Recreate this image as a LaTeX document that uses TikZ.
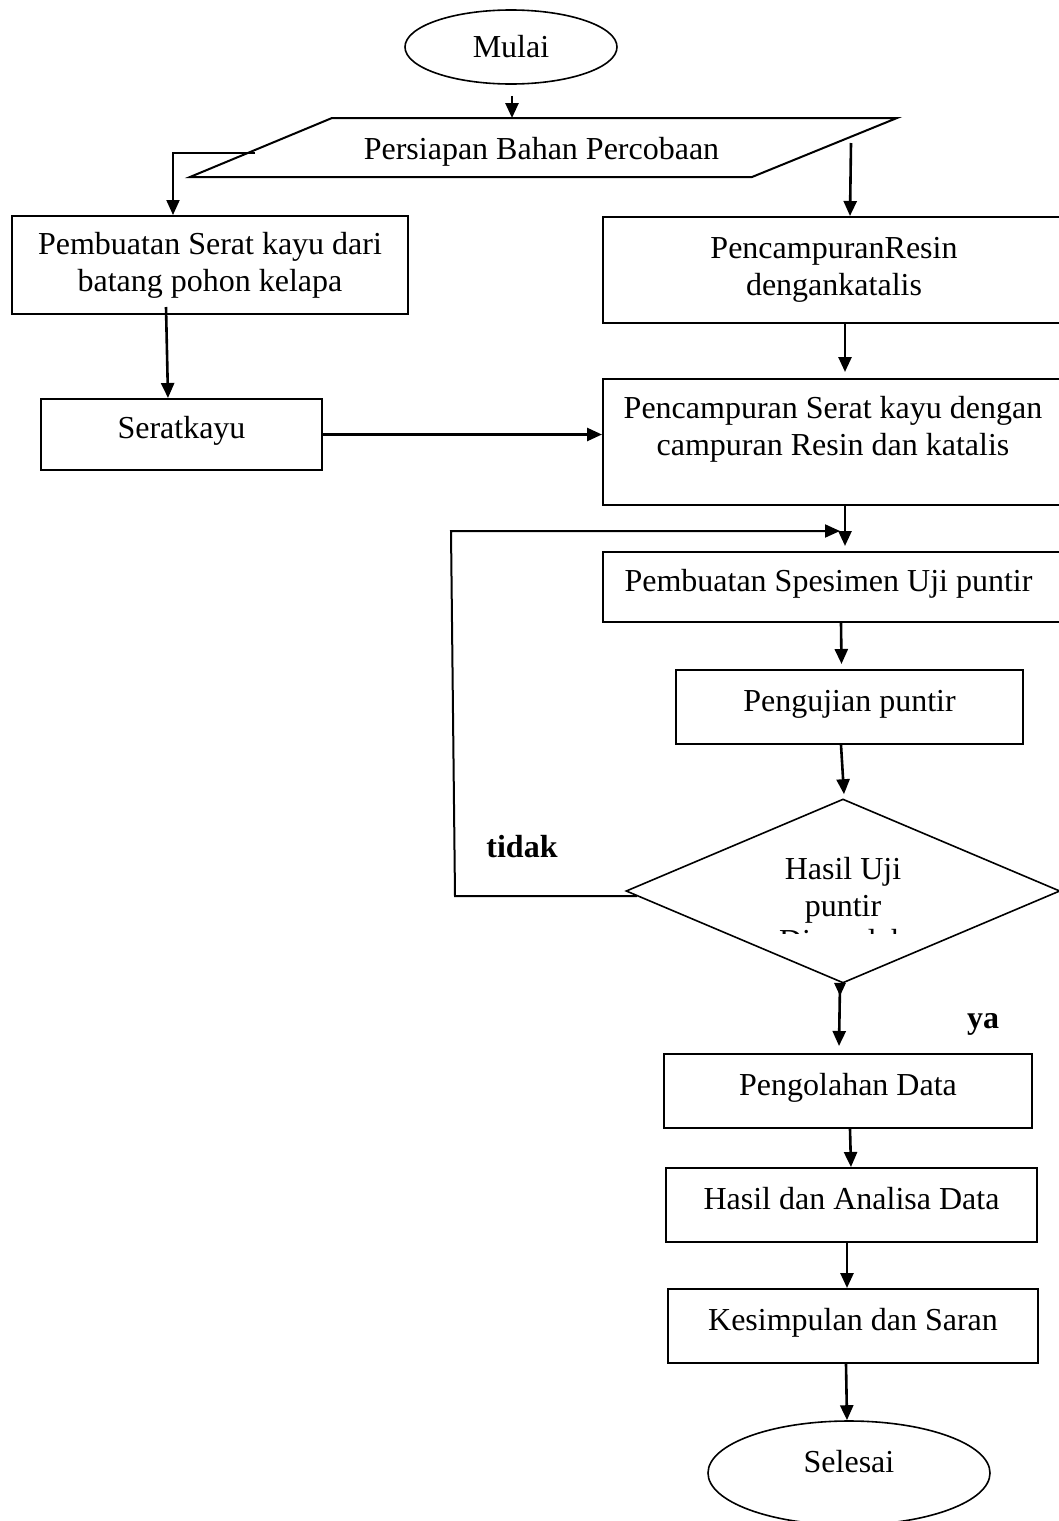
\documentclass[tikz,border=0pt]{standalone}
\usepackage{fontspec}
\setmainfont{Liberation Serif}
\usetikzlibrary{shapes.geometric,arrows.meta,calc}
\begin{document}
\begin{tikzpicture}[x=0.5pt,y=-0.5pt,
  font=\fontsize{16}{18.5}\selectfont,
  box/.style={draw,line width=1pt,inner sep=0pt,align=center},
  oval/.style={draw,ellipse,line width=0.8pt,inner sep=0pt},
  arr/.style={line width=1.3pt,-{Triangle[length=7.5pt,width=6.5pt]}},
  thinarr/.style={line width=1pt,-{Triangle[length=7.5pt,width=6.5pt]}},
  txt/.style={inner sep=0pt,align=center},
  onel/.style={text height=9pt,text depth=5pt},
  lbl/.style={inner sep=0pt,font=\fontsize{16}{18.5}\selectfont\bfseries}
]
\useasboundingbox (0,0) rectangle (1059,1521);

% start
\node[oval,minimum width=106pt,minimum height=37pt] (mulai) at (511,47) {Mulai};

% parallelogram
\coordinate (p1) at (332,118);
\coordinate (p2) at (897,118);
\coordinate (p3) at (752,177);
\coordinate (p4) at (190,177);
\draw[line width=1pt] (p1)--(p2)--(p3)--(p4)--cycle;
\node[txt] (par) at (541.5,151.5) {Persiapan Bahan Percobaan};
\coordinate (partop) at (512,118);
\coordinate (parL) at (255,153);
\coordinate (parR) at (851,143);

% boxes
\node[box,minimum width=198pt,minimum height=49pt] (b1) at (210,265) {Pembuatan Serat kayu dari\\batang pohon kelapa};
\node[box,minimum width=231pt,minimum height=53pt] (b2) at (834,270) {PencampuranResin\\dengankatalis};
\node[box,minimum width=231pt,minimum height=63pt] (b3) at (834,442) {};
\node[txt] (b3t) at (833,429) {Pencampuran Serat kayu dengan\\campuran Resin dan katalis};
\node[box,onel,minimum width=140.5pt,minimum height=35.5pt] (serat) at (181.5,434.5) {Seratkayu};
\node[box,minimum width=231pt,minimum height=35pt] (b4) at (834,587) {};
\node[txt,onel] (b4t) at (828.5,587) {Pembuatan Spesimen Uji puntir};
\node[box,onel,minimum width=173.5pt,minimum height=37pt] (b5) at (849.5,707) {Pengujian puntir};

% decision
\node[draw,diamond,line width=0.8pt,minimum width=217pt,minimum height=92pt,inner sep=0pt] (dia) at (843,891) {};
\node[txt] (diat) at (843,890) {Hasil Uji\\puntir};
\begin{scope}
  \clip (700,920) rectangle (1000,933);
  \node[inner sep=0pt,anchor=base] (diac) at (843,951) {Diperoleh};
\end{scope}

\node[box,onel,minimum width=184pt,minimum height=37pt] (b6) at (848,1091) {Pengolahan Data};
\node[box,onel,minimum width=185.5pt,minimum height=37pt] (b7) at (851.5,1205) {Hasil dan Analisa Data};
\node[box,onel,minimum width=185pt,minimum height=37pt] (b8) at (853,1326) {Kesimpulan dan Saran};

% end
\node[oval,minimum width=141pt,minimum height=52pt] (sel) at (849,1473) {};
\node[txt] (selt) at (849,1462) {Selesai};

% labels
\node[lbl] (tidak) at (522,847) {tidak};
\node[lbl] (ya) at (983,1024) {ya};

% connectors
\draw[arr] ($(mulai.south)+(1,11)$) -- (partop);
\draw[thinarr] (parL) -| ($(b1.north west)+(162,0)$);
\draw[arr] (parR) -- ($(b2.north west)+(248,0)$);
\draw[arr] ($(b1.south west)+(155,-8)$) -- ($(serat.north west)+(128,0)$);
\draw[arr] (serat.east) -- (serat.east -| b3.west);
\draw[arr] ($(b2.south west)+(243,0)$) -- ($(b3.north west)+(243,-6)$);
\draw[arr] ($(b3.south west)+(243,0)$) -- ($(b4.north west)+(243,-5)$);

\coordinate (lp1) at (455,896);
\coordinate (lp2) at (451,531);
\coordinate (lp3) at (840,531);
\draw[thinarr] ($(dia.west)+(12,5)$) -- (lp1) -- (lp2) -- (lp3);

\draw[arr] ($(b4.south west)+(239,0)$) -- ($(b5.north west)+(166.5,-5)$);
\draw[arr] ($(b5.south west)+(166,0)$) -- ($(dia.north)+(1,-4)$);
\fill ($(dia.south)+(-9,-1)$) -- ($(dia.south)+(3,-1)$) -- ($(dia.south)+(-3,12)$) -- cycle;
\draw[arr] ($(dia.south)+(-3,0)$) -- ($(b6.north west)+(176,-7)$);
\draw[arr] ($(b6.south west)+(187,0)$) -- ($(b7.north west)+(186,0)$);
\draw[arr] ($(b7.south west)+(182,0)$) -- ($(b8.north west)+(180,0)$);
\draw[arr] ($(b8.south west)+(179,0)$) -- ($(sel.north)+(-2,0)$);
\end{tikzpicture}
\end{document}
